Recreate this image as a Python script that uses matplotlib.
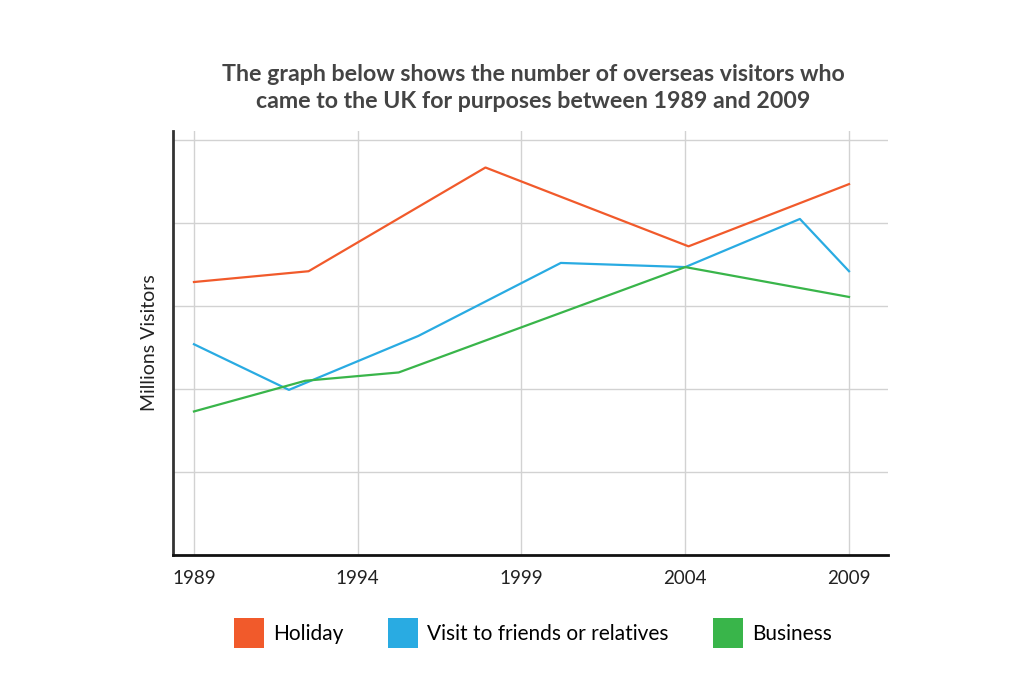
import matplotlib.pyplot as plt
from matplotlib.patches import Patch

# values (millions of visitors, axis unlabeled)
holiday_years = [1989, 1992.5, 1997.9, 2004.1, 2009]
holiday_vals = [3.29, 3.42, 4.67, 3.72, 4.47]

visit_years = [1989, 1991.9, 1995.85, 2000.2, 2004.0, 2007.5, 2009]
visit_vals = [2.54, 1.99, 2.64, 3.52, 3.47, 4.05, 3.42]

business_years = [1989, 1992.4, 1995.25, 2004.0, 2009]
business_vals = [1.73, 2.10, 2.20, 3.47, 3.11]

tick_years = [1989, 1994, 1999, 2004, 2009]
series_names = ["Holiday", "Visit to friends or relatives", "Business"]
series_colors = ["#F15A2B", "#29ABE2", "#39B54A"]

title = ("The graph below shows the number of overseas visitors who\n"
         "came to the UK for purposes between 1989 and 2009")

plt.rcParams["font.family"] = ["Lato", "DejaVu Sans"]

fig = plt.figure(figsize=(10.24, 6.83), dpi=100)
ax = fig.add_axes([173 / 1024, 1 - 555 / 683, 715 / 1024, 424 / 683])

ax.plot(holiday_years, holiday_vals, color=series_colors[0], linewidth=1.6)
ax.plot(visit_years, visit_vals, color=series_colors[1], linewidth=1.6)
ax.plot(business_years, business_vals, color=series_colors[2], linewidth=1.6)

ax.set_xlim(1988.36, 2010.19)
ax.set_ylim(0, 5.11)
ax.set_xticks(tick_years)
ax.set_xticklabels([str(y) for y in tick_years], fontsize=13.5, color="#222222")
ax.set_yticks([1, 2, 3, 4, 5])
ax.set_yticklabels([])
ax.tick_params(length=0, pad=11)
ax.grid(True, color="#d2d2d2", linewidth=1.0)
ax.set_axisbelow(True)

for side in ["top", "right"]:
    ax.spines[side].set_visible(False)
ax.spines["left"].set_color("#333333")
ax.spines["left"].set_linewidth(2)
ax.spines["bottom"].set_color("#111111")
ax.spines["bottom"].set_linewidth(2)

ax.set_ylabel("Millions Visitors", fontsize=14, color="#222222", labelpad=0)

fig.text(533 / 1024, 1 - 88 / 683, title, ha="center", va="center",
         fontsize=16.7, fontweight="bold", color="#444444", linespacing=1.3)

handles = [Patch(facecolor=c, edgecolor="none") for c in series_colors]
fig.legend(handles, series_names, loc="center", ncol=3, frameon=False,
           bbox_to_anchor=(533 / 1024, 1 - 633 / 683), fontsize=15,
           handlelength=1.45, handleheight=1.9, handletextpad=0.45,
           columnspacing=2.1)

fig.savefig("out.png", dpi=100, facecolor="white")
